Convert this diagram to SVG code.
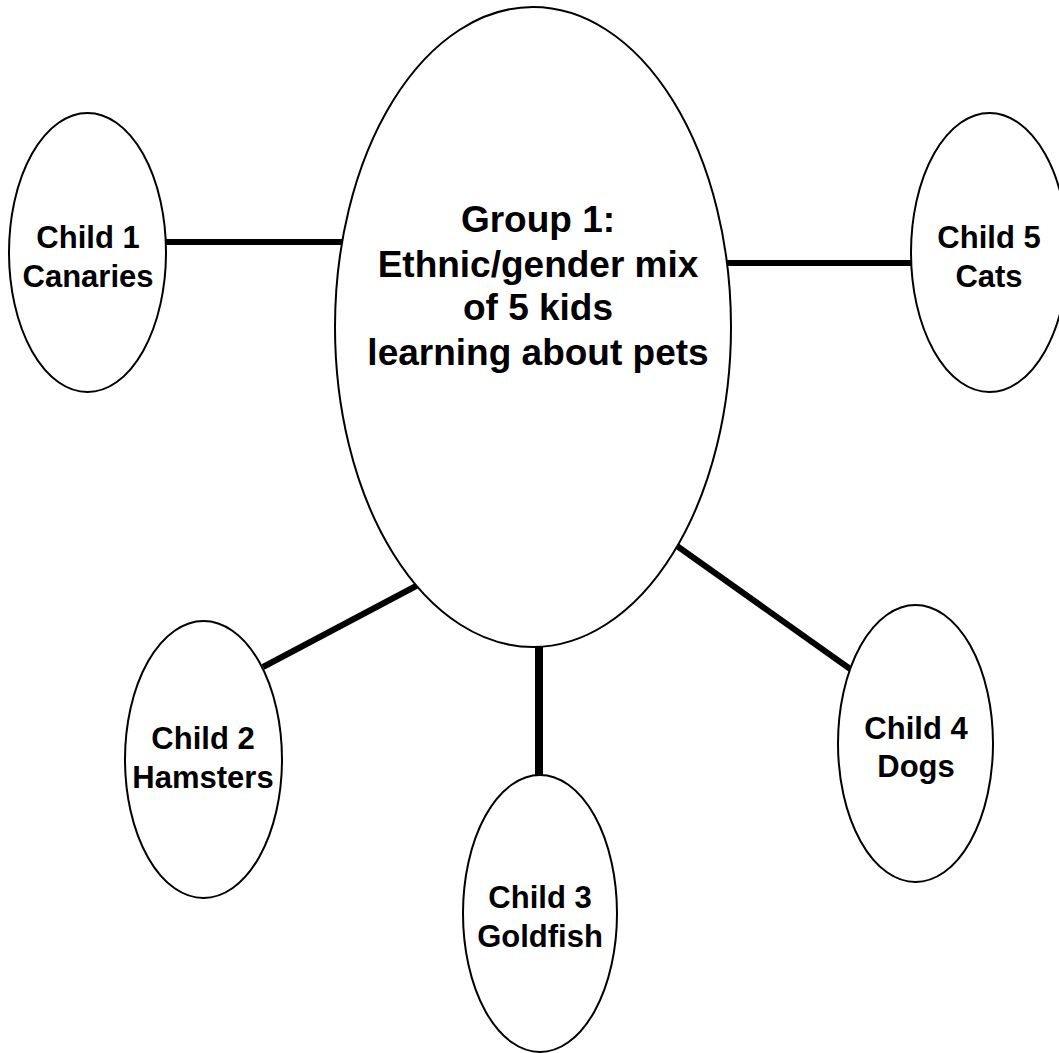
<svg xmlns="http://www.w3.org/2000/svg" width="1059" height="1053" viewBox="0 0 1059 1053">
  <style>
    .node { fill: #ffffff; stroke: #000000; stroke-width: 2; }
    .link { stroke: #000000; stroke-width: 6; stroke-linecap: butt; fill: none; }
    .label { font-family: "Liberation Sans", Arial, sans-serif; font-weight: bold; fill: #000000; text-anchor: middle; }
    .small { font-size: 31px; }
    .big { font-size: 37px; }
  </style>
  <rect width="1059" height="1053" fill="#ffffff"/>

  <g id="connectors">
    <line class="link" x1="166" y1="242" x2="347" y2="242"/>
    <line class="link" x1="719" y1="263" x2="911" y2="263"/>
    <line class="link" x1="263" y1="667" x2="418" y2="585"/>
    <line class="link" x1="539" y1="647" x2="539" y2="775" style="stroke-width:8"/>
    <line class="link" x1="677" y1="546" x2="853" y2="671"/>
  </g>

  <g id="group1">
    <ellipse class="node" cx="533" cy="327" rx="198" ry="320"/>
    <text class="label big" x="538" y="232">Group 1:</text>
    <text class="label big" x="538" y="277">Ethnic/gender mix</text>
    <text class="label big" x="538" y="320">of 5 kids</text>
    <text class="label big" x="538" y="365">learning about pets</text>
  </g>

  <g id="child1">
    <ellipse class="node" cx="87.5" cy="252.5" rx="78.5" ry="139.5"/>
    <text class="label small" x="88" y="248">Child 1</text>
    <text class="label small" x="88" y="287">Canaries</text>
  </g>

  <g id="child2">
    <ellipse class="node" cx="203.5" cy="759.5" rx="78.5" ry="138.5"/>
    <text class="label small" x="203" y="749">Child 2</text>
    <text class="label small" x="203" y="788">Hamsters</text>
  </g>

  <g id="child3">
    <ellipse class="node" cx="540" cy="913.5" rx="77" ry="138.5"/>
    <text class="label small" x="540" y="908">Child 3</text>
    <text class="label small" x="540" y="947">Goldfish</text>
  </g>

  <g id="child4">
    <ellipse class="node" cx="915.5" cy="743.5" rx="77.5" ry="138.5"/>
    <text class="label small" x="916" y="739">Child 4</text>
    <text class="label small" x="916" y="777">Dogs</text>
  </g>

  <g id="child5">
    <ellipse class="node" cx="989.5" cy="252.5" rx="78.5" ry="139.5"/>
    <text class="label small" x="989" y="248">Child 5</text>
    <text class="label small" x="989" y="287">Cats</text>
  </g>
</svg>
